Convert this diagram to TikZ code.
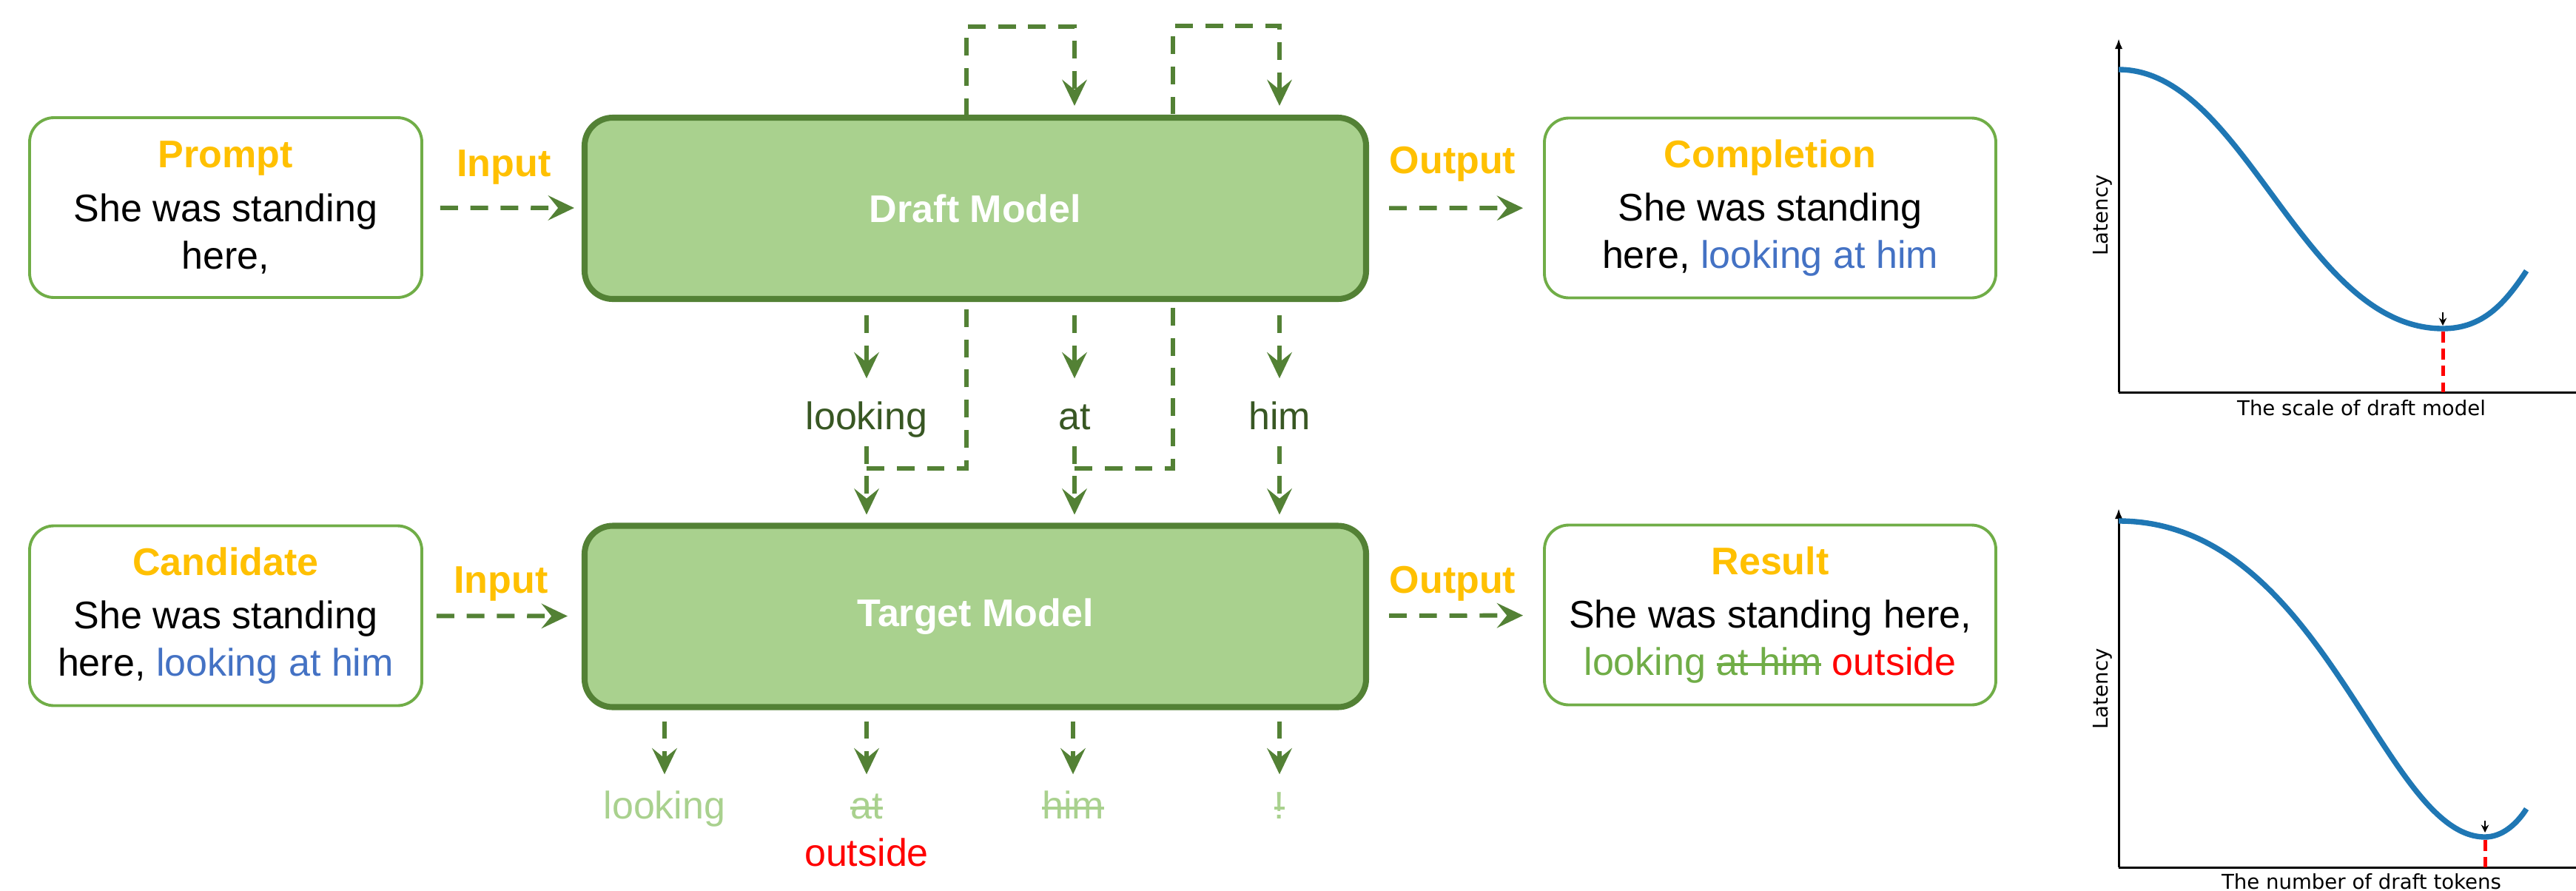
\documentclass[tikz,border=0pt]{standalone}
\usepackage{fontspec}
\setmainfont{Liberation Sans}
\newfontfamily\plotfont{DejaVu Sans}
\usetikzlibrary{arrows.meta,backgrounds}

\newsavebox{\strikebox}
\newcommand{\strikeout}[1]{\sbox{\strikebox}{#1}\rlap{\raisebox{0.24em}{\rule{\wd\strikebox}{1.1pt}}}\usebox{\strikebox}}

\definecolor{gold}{HTML}{FFC000}
\definecolor{modelfill}{HTML}{A9D18E}
\definecolor{modeldraw}{HTML}{538135}
\definecolor{boxdraw}{HTML}{70AD47}
\definecolor{tokdark}{HTML}{385723}
\definecolor{tokblue}{HTML}{4472C4}
\definecolor{plotblue}{HTML}{1F77B4}

\tikzset{
  txt/.style={font=\fontsize{14.8}{18.2}\selectfont},
  io/.style={txt, draw=boxdraw, line width=1.1pt, rounded corners=0.33cm, fill=white,
    align=center, minimum width=5.30cm, minimum height=2.43cm},
  model/.style={draw=modeldraw, fill=modelfill, line width=2.3pt, rounded corners=0.38cm,
    text=white, font=\fontsize{14.8}{18.2}\selectfont\bfseries,
    minimum width=10.56cm, minimum height=2.45cm},
  lbl/.style={font=\fontsize{14.8}{18.2}\selectfont\bfseries, text=gold},
  tok/.style={txt, inner sep=0pt, text height=0.40cm, text depth=0.12cm, anchor=base},
  flow/.style={draw=modeldraw, line width=1.7pt, dash pattern=on 6.8pt off 4.8pt,
    -{Stealth[length=10pt,width=9.5pt,inset=3.8pt]}},
  axis/.style={draw=black, line width=0.85pt},
  curve/.style={draw=plotblue, line width=2.1pt},
  optline/.style={draw=red, line width=1.4pt, dash pattern=on 4.2pt off 2.3pt},
  minmark/.style={draw=black, line width=0.4pt, -{Stealth[length=3pt,width=3pt]}},
  plotlbl/.style={font=\plotfont\fontsize{7.85}{9.4}\selectfont}
}

\begin{document}
\begin{tikzpicture}
\useasboundingbox (0,0) rectangle (34.81,-12.03);
%
\node[io](prompt) at (3.05,-2.805) {{\color{gold}\bfseries Prompt}\\[2.5pt]She was standing\\here,};
\node[model](draft) at (13.18,-2.815) {Draft Model};
\node[io,minimum width=6.10cm](compl) at (23.92,-2.81) {{\color{gold}\bfseries Completion}\\[2.5pt]She was standing\\here, {\color{tokblue}looking at him}};
%
\node[lbl](in1) at (6.81,-2.26) {Input};
\draw[flow,shorten <=0.23cm,shorten >=0.10cm](prompt) -- (draft) {};
\node[lbl](out1) at (19.63,-2.22) {Output};
\draw[flow,shorten <=0.27cm,shorten >=0.27cm](draft) -- (compl) {};
%
\node[tok,text=tokdark](lookA) at (11.71,-5.80) {looking};
\node[tok,text=tokdark](atA) at (14.52,-5.80) {at};
\node[tok,text=tokdark](himA) at (17.29,-5.80) {him};
\draw[flow,shorten <=0.18cm,shorten >=0.28cm](draft.south -| lookA) -- (lookA) {};
\draw[flow,shorten <=0.18cm,shorten >=0.28cm](draft.south -| atA) -- (atA) {};
\draw[flow,shorten <=0.18cm,shorten >=0.28cm](draft.south -| himA) -- (himA) {};
%
\node[io](cand) at (3.05,-8.32) {{\color{gold}\bfseries Candidate}\\[2.5pt]She was standing\\here, {\color{tokblue}looking at him}};
\node[model](target) at (13.18,-8.33) {Target Model};
\node[io,minimum width=6.10cm](result) at (23.92,-8.31) {{\color{gold}\bfseries Result}\\[2.5pt]She was standing here,\\{\color{boxdraw}looking \strikeout{at him}} {\color{red}outside}};
%
\node[lbl](in2) at (6.77,-7.89) {Input};
\draw[flow,shorten <=0.18cm,shorten >=0.19cm](cand) -- (target) {};
\node[lbl](out2) at (19.63,-7.89) {Output};
\draw[flow,shorten <=0.27cm,shorten >=0.27cm](target) -- (result) {};
%
\draw[flow,shorten <=0.10cm,shorten >=0.11cm](lookA) -- (target.north -| lookA) {};
\draw[flow,shorten <=0.10cm,shorten >=0.11cm](atA) -- (target.north -| atA) {};
\draw[flow,shorten <=0.10cm,shorten >=0.11cm](himA) -- (target.north -| himA) {};
%
\begin{scope}[on background layer]
\coordinate(j1) at (11.71,-6.33);
\coordinate(t1) at (13.06,-0.36);
\draw[flow,shorten >=0.12cm](j1) -| (t1) -| (draft.north -| atA) {};
\coordinate(j2) at (14.52,-6.33);
\coordinate(t2) at (15.85,-0.35);
\draw[flow,shorten >=0.12cm](j2) -| (t2) -| (draft.north -| himA) {};
\end{scope}
%
\node[tok,text=modelfill](lookB) at (8.98,-11.06) {looking};
\node[tok,text=modelfill](atB) at (11.71,-11.06) {\strikeout{at}};
\node[tok,text=modelfill](himB) at (14.50,-11.06) {\strikeout{him}};
\node[tok,text=modelfill](bangB) at (17.29,-11.06) {\strikeout{!}};
\node[tok,text=red](outB) at (11.71,-11.70) {outside};
\draw[flow,shorten <=0.15cm,shorten >=0.19cm](target.south -| lookB) -- (lookB) {};
\draw[flow,shorten <=0.15cm,shorten >=0.19cm](target.south -| atB) -- (atB) {};
\draw[flow,shorten <=0.15cm,shorten >=0.19cm](target.south -| himB) -- (himB) {};
\draw[flow,shorten <=0.15cm,shorten >=0.19cm](target.south -| bangB) -- (bangB) {};
%
% latency vs. scale of draft model
\draw[axis,-{Latex[length=4pt,width=3pt]}](28.63,-5.30) -- (28.63,-0.52);
\draw[axis](28.63,-5.30) -- (34.81,-5.30);
\draw[curve](28.63,-0.94) .. controls (30.33,-0.94) and (31.11,-4.44) .. (33.01,-4.44) .. controls (33.55,-4.44) and (33.85,-4.10) .. (34.14,-3.66);
\draw[optline](33.01,-4.48) -- (33.01,-5.30);
\draw[minmark](33.01,-4.22) -- (33.01,-4.40);
\node[plotlbl,rotate=90](lat1) at (28.41,-2.91) {Latency};
\node[plotlbl,anchor=base](xlab1) at (31.91,-5.61) {The scale of draft model};
%
% latency vs. number of draft tokens
\draw[axis,-{Latex[length=4pt,width=3pt]}](28.63,-11.72) -- (28.63,-6.87);
\draw[axis](28.63,-11.72) -- (34.81,-11.72);
\draw[curve](28.63,-7.04) .. controls (31.40,-7.04) and (32.20,-11.31) .. (33.58,-11.31) .. controls (33.80,-11.31) and (34.00,-11.15) .. (34.14,-10.93);
\draw[optline](33.58,-11.35) -- (33.58,-11.72);
\draw[minmark](33.58,-11.09) -- (33.58,-11.25);
\node[plotlbl,rotate=90](lat2) at (28.41,-9.31) {Latency};
\node[plotlbl,anchor=base](xlab2) at (31.91,-12.01) {The number of draft tokens};
\end{tikzpicture}
\end{document}
